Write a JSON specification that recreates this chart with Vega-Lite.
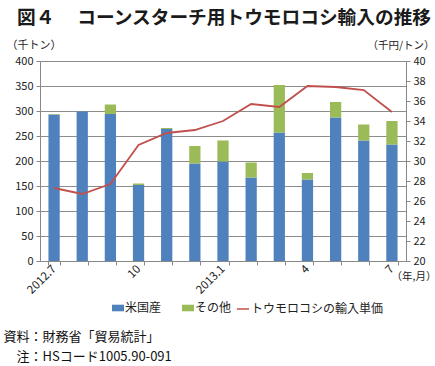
{
  "$schema": "https://vega.github.io/schema/vega-lite/v6.json",
  "autosize": "none",
  "width": 366,
  "height": 200,
  "padding": {"left": 40, "top": 61, "right": 29, "bottom": 105},
  "background": "white",
  "config": {
    "font": "Noto Sans CJK JP",
    "view": {"stroke": null},
    "axis": {"labelFont": "Noto Sans CJK JP", "titleFont": "Noto Sans CJK JP", "labelColor": "#222", "titleColor": "#222", "domainColor": "#888", "tickColor": "#888", "gridColor": "#8c8c8c", "labelFontSize": 11},
    "legend": {"labelFont": "Noto Sans CJK JP", "labelColor": "#222", "labelFontSize": 12}
  },
  "title": {
    "text": "図４　 コーンスターチ用トウモロコシ輸入の推移",
    "anchor": "start",
    "frame": "group",
    "fontSize": 18.7,
    "fontWeight": "bold",
    "color": "#1a1a1a",
    "font": "Noto Sans CJK JP",
    "dx": -23,
    "offset": 11
  },
  "datasets": {
    "imports": [
      {"month": "2012.7", "series": "米国産", "value": 293},
      {"month": "2012.7", "series": "その他", "value": 1},
      {"month": "2012.8", "series": "米国産", "value": 299},
      {"month": "2012.8", "series": "その他", "value": 0},
      {"month": "2012.9", "series": "米国産", "value": 294},
      {"month": "2012.9", "series": "その他", "value": 19},
      {"month": "2012.10", "series": "米国産", "value": 152},
      {"month": "2012.10", "series": "その他", "value": 3},
      {"month": "2012.11", "series": "米国産", "value": 264},
      {"month": "2012.11", "series": "その他", "value": 2},
      {"month": "2012.12", "series": "米国産", "value": 195},
      {"month": "2012.12", "series": "その他", "value": 35},
      {"month": "2013.1", "series": "米国産", "value": 199},
      {"month": "2013.1", "series": "その他", "value": 42},
      {"month": "2013.2", "series": "米国産", "value": 167},
      {"month": "2013.2", "series": "その他", "value": 30},
      {"month": "2013.3", "series": "米国産", "value": 257},
      {"month": "2013.3", "series": "その他", "value": 95},
      {"month": "2013.4", "series": "米国産", "value": 163},
      {"month": "2013.4", "series": "その他", "value": 13},
      {"month": "2013.5", "series": "米国産", "value": 287},
      {"month": "2013.5", "series": "その他", "value": 31},
      {"month": "2013.6", "series": "米国産", "value": 241},
      {"month": "2013.6", "series": "その他", "value": 32},
      {"month": "2013.7", "series": "米国産", "value": 233},
      {"month": "2013.7", "series": "その他", "value": 47}
    ],
    "price": [
      {"month": "2012.7", "price": 27.3},
      {"month": "2012.8", "price": 26.7},
      {"month": "2012.9", "price": 27.7},
      {"month": "2012.10", "price": 31.6},
      {"month": "2012.11", "price": 32.8},
      {"month": "2012.12", "price": 33.1},
      {"month": "2013.1", "price": 34.0},
      {"month": "2013.2", "price": 35.7},
      {"month": "2013.3", "price": 35.4},
      {"month": "2013.4", "price": 37.5},
      {"month": "2013.5", "price": 37.4},
      {"month": "2013.6", "price": 37.1},
      {"month": "2013.7", "price": 34.9}
    ]
  },
  "layer": [
    {
      "data": {"name": "imports"},
      "mark": {"type": "bar"},
      "encoding": {
        "x": {
          "field": "month",
          "type": "ordinal",
          "sort": null,
          "scale": {"paddingInner": 0.6, "paddingOuter": 0.3},
          "axis": {
            "orient": "bottom",
            "title": "（年,月）",
            "titleFontSize": 10.5,
            "titleFontWeight": "normal",
            "titleAngle": 0,
            "titleAlign": "left",
            "titleBaseline": "middle",
            "titleX": 351,
            "titleY": 15,
            "labelAngle": -45,
            "labelAlign": "right",
            "labelBaseline": "middle",
            "labelPadding": 2,
            "labelFontSize": 11.5,
            "labelExpr": "datum.value == '2012.7' || datum.value == '2013.1' ? datum.value : datum.value == '2012.10' ? '10' : datum.value == '2013.4' ? '4' : datum.value == '2013.7' ? '7' : ''",
            "tickBand": "extent",
            "tickSize": 4,
            "domainColor": "#888",
            "grid": false
          }
        },
        "y": {
          "field": "value",
          "type": "quantitative",
          "stack": "zero",
          "scale": {"domain": [0, 400]},
          "axis": {
            "values": [0, 50, 100, 150, 200, 250, 300, 350, 400],
            "title": "（千トン）",
            "titleFontSize": 11,
            "titleFontWeight": "normal",
            "titleAngle": 0,
            "titleAlign": "left",
            "titleBaseline": "middle",
            "titleX": -34,
            "titleY": -16,
            "grid": true,
            "tickSize": 4,
            "labelPadding": 3
          }
        },
        "color": {
          "field": "series",
          "type": "nominal",
          "sort": ["米国産", "その他"],
          "scale": {"domain": ["米国産", "その他"], "range": ["#4F81BD", "#9BBB59"]},
          "legend": {
            "title": null,
            "orient": "none",
            "direction": "horizontal",
            "legendX": 72,
            "legendY": 241,
            "symbolType": "M-1,-0.55H1V0.55H-1Z",
            "symbolSize": 144,
            "symbolStrokeWidth": 0,
            "labelOffset": 1,
            "columnPadding": 20
          }
        }
      }
    },
    {
      "data": {"name": "price"},
      "mark": {"type": "line", "strokeWidth": 1.8},
      "encoding": {
        "x": {
          "field": "month",
          "type": "ordinal",
          "sort": null,
          "axis": {
            "orient": "bottom",
            "title": ["資料：財務省「貿易統計」", "\u200b\u3000注：HSコード1005.90-091"],
            "titleFontSize": 13,
            "titleFontWeight": "normal",
            "titleColor": "#111",
            "titleAngle": 0,
            "titleAlign": "left",
            "titleBaseline": "middle",
            "titleLineHeight": 20,
            "titleX": -37,
            "titleY": 75,
            "labels": false,
            "ticks": false,
            "domain": false,
            "grid": false
          }
        },
        "y": {
          "field": "price",
          "type": "quantitative",
          "scale": {"domain": [20, 40]},
          "axis": {
            "orient": "right",
            "values": [20, 22, 24, 26, 28, 30, 32, 34, 36, 38, 40],
            "title": "（千円/トン）",
            "titleFontSize": 10.5,
            "titleFontWeight": "normal",
            "titleAngle": 0,
            "titleAlign": "left",
            "titleBaseline": "middle",
            "titleX": -39,
            "titleY": -16,
            "grid": false,
            "tickSize": 4,
            "labelPadding": 3
          }
        },
        "stroke": {
          "datum": "トウモロコシの輸入単価",
          "type": "nominal",
          "scale": {"range": ["#C0504D"]},
          "legend": {
            "title": null,
            "orient": "none",
            "direction": "horizontal",
            "legendX": 196,
            "legendY": 241,
            "symbolType": "stroke",
            "symbolSize": 144,
            "symbolStrokeWidth": 1.5,
            "labelOffset": 1
          }
        }
      }
    }
  ],
  "resolve": {"scale": {"y": "independent"}, "axis": {"x": "independent"}}
}
